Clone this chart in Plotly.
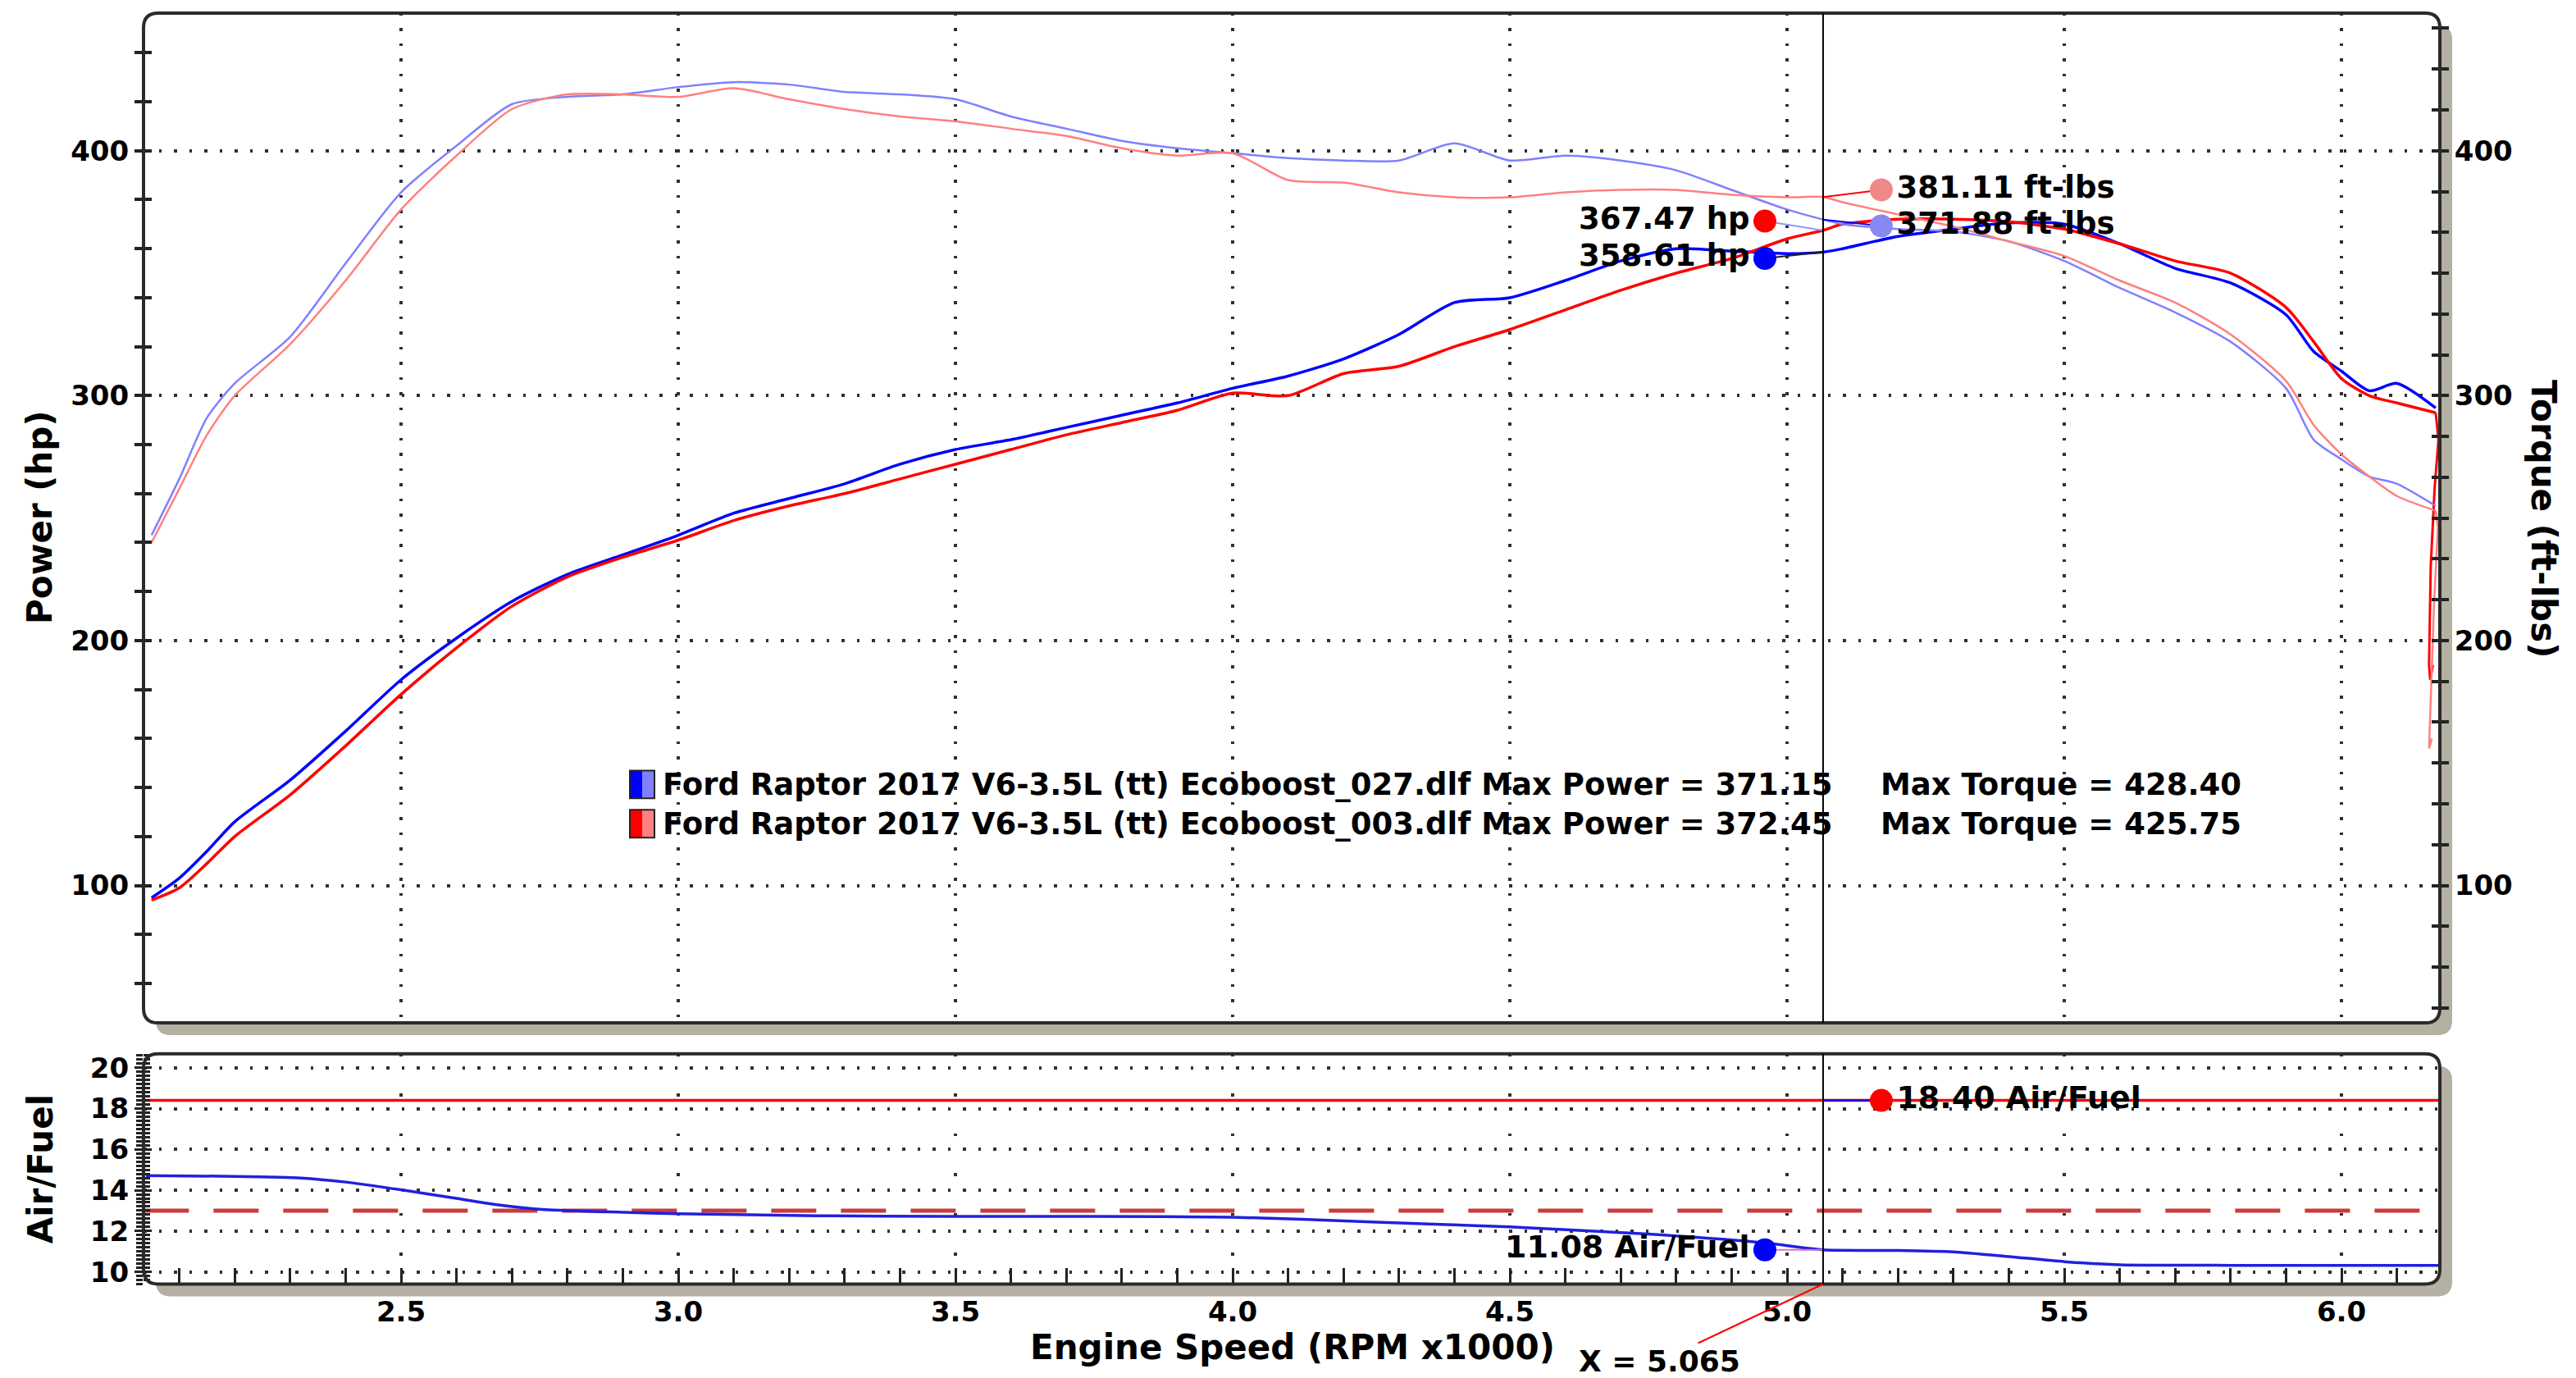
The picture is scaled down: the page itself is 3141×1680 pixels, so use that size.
import plotly.graph_objects as go

W, H = 3141, 1680

# ---------------- data ----------------
rpm = [2.05, 2.1, 2.15, 2.2, 2.3, 2.4, 2.5, 2.6, 2.7, 2.8, 2.9, 3.0, 3.1, 3.2, 3.3, 3.4,
       3.5, 3.6, 3.7, 3.8, 3.9, 4.0, 4.1, 4.2, 4.3, 4.4, 4.5, 4.6, 4.7, 4.8, 4.9, 5.0,
       5.065, 5.1, 5.2, 5.3, 5.4, 5.5, 5.6, 5.7, 5.8, 5.9, 5.95, 6.0, 6.05, 6.1, 6.17]

power_027 = [95, 103, 114, 126, 143, 163, 184, 201, 216, 227, 235, 243, 252, 258, 264, 272,
             278, 282, 287, 292, 297, 303, 308, 315, 325, 338, 340, 347, 355, 360, 359, 358,
             358.6, 360, 365, 368, 370.5, 370, 362, 352, 346, 333, 318, 310, 302, 305, 295]

power_003 = [94, 99, 109, 120, 137, 157, 178, 197, 214, 226, 234, 241, 249, 255, 260, 266,
             272, 278, 284, 289, 294, 301, 300, 309, 312, 320, 327, 335, 343, 350, 356, 364,
             367.5, 370, 372, 372, 371, 368, 362, 355, 350, 336, 322, 307, 300, 297, 293]

torque_027 = [243, 266, 291, 305, 324, 354, 383, 402, 419, 422, 423, 426, 428, 427, 424, 423,
              421, 414, 409, 404, 401, 399, 397, 396, 396, 403, 396, 398, 396, 392, 384, 376,
              371.9, 370, 368, 367, 363, 355, 344, 334, 322, 303, 282, 274, 267, 264, 255]

torque_003 = [240, 262, 284, 300, 321, 347, 376, 398, 417, 423, 423, 422, 425.5, 421, 417, 414,
              412, 409, 406, 401, 398, 399, 388, 387, 383, 381, 381, 383, 384, 384, 382, 381,
              381.1, 379, 374, 369, 363, 357, 347, 338, 325, 306, 288, 276, 267, 259, 253]

# end-of-run drop of run 003
rpm_tail_power_003 = [6.17, 6.175, 6.168, 6.161, 6.158, 6.160, 6.165]
power_tail_003 = [293, 282, 262, 230, 190, 184, 190]
rpm_tail_torque_003 = [6.17, 6.174, 6.167, 6.161, 6.158, 6.163]
torque_tail_003 = [253, 246, 215, 180, 156, 160]

rpm_afr = [2.04, 2.2, 2.32, 2.4, 2.5, 2.6, 2.67, 2.76, 2.9, 3.0, 3.25, 3.5, 3.75, 4.0, 4.25,
           4.5, 4.75, 4.96, 5.065, 5.2, 5.3, 5.4, 5.5, 5.6, 5.8, 6.0, 6.175]
afr_027 = [14.72, 14.68, 14.6, 14.4, 14.02, 13.6, 13.3, 13.05, 12.92, 12.85, 12.75, 12.72, 12.72,
           12.68, 12.45, 12.2, 11.85, 11.42, 11.08, 11.05, 10.98, 10.75, 10.5, 10.35, 10.32,
           10.32, 10.32]
rpm_afr_003 = [2.036, 6.177]
afr_003 = [18.40, 18.40]
afr_target_rpm = [2.036, 6.177]
afr_target = [13.0, 13.0]

run_names = ["Ford Raptor 2017 V6-3.5L (tt) Ecoboost_027.dlf",
             "Ford Raptor 2017 V6-3.5L (tt) Ecoboost_003.dlf"]
max_power = [371.15, 372.45]
max_torque = [428.40, 425.75]

cursor_rpm = 5.065
hp_at_cursor = [358.61, 367.47]       # 027, 003
tq_at_cursor = [371.88, 381.11]       # 027, 003
afr_at_cursor = [11.08, 18.40]        # 027, 003

x_ticks = [2.5, 3.0, 3.5, 4.0, 4.5, 5.0, 5.5, 6.0]
power_ticks = [100, 200, 300, 400]
afr_ticks = [10, 12, 14, 16, 18, 20]

# ---------------- style / layout constants ----------------
BLUE = "#0000ff"
LBLUE = "#8080ff"
RED = "#ff0000"
PINK = "#ff8080"
FONT = "DejaVu Sans"
X_RANGE = [2.0355, 6.1775]
P_RANGE = [43.9, 456.2]
A_RANGE = [9.4, 20.68]
LABEL_OFF = 0.105   # rpm offset of cursor value dots
# vertical nudges (axis units) that keep the cursor labels apart
HP_NUDGE = [-2.6, 3.8]
TQ_NUDGE = [-2.6, 2.9]

X0, X1 = 175, 2975
TOP0, TOP1 = 13, 1250
BOT0, BOT1 = 1288, 1570


def fx(px):
    return px / W


def fy(py):
    return 1 - py / H


fig = go.Figure()

# torque (thin)
fig.add_trace(go.Scatter(x=rpm, y=torque_027, mode="lines", yaxis="y2",
                         line=dict(color=LBLUE, width=2.5, shape="spline", smoothing=0.7)))
fig.add_trace(go.Scatter(x=rpm, y=torque_003, mode="lines", yaxis="y2",
                         line=dict(color=PINK, width=2.5, shape="spline", smoothing=0.7)))
fig.add_trace(go.Scatter(x=rpm_tail_torque_003, y=torque_tail_003, mode="lines", yaxis="y2",
                         line=dict(color=PINK, width=2.5)))
# power (thick)
fig.add_trace(go.Scatter(x=rpm, y=power_027, mode="lines", yaxis="y",
                         line=dict(color=BLUE, width=3.5, shape="spline", smoothing=0.7)))
fig.add_trace(go.Scatter(x=rpm, y=power_003, mode="lines", yaxis="y",
                         line=dict(color=RED, width=3.5, shape="spline", smoothing=0.7)))
fig.add_trace(go.Scatter(x=rpm_tail_power_003, y=power_tail_003, mode="lines", yaxis="y",
                         line=dict(color=RED, width=3)))

# AFR panel
fig.add_trace(go.Scatter(x=afr_target_rpm, y=afr_target, mode="lines", xaxis="x2", yaxis="y5",
                         line=dict(color="#c83c3c", width=5, dash="55px,30px")))
fig.add_trace(go.Scatter(x=rpm_afr_003, y=afr_003, mode="lines", xaxis="x2", yaxis="y5",
                         line=dict(color=RED, width=3.5)))
fig.add_trace(go.Scatter(x=rpm_afr, y=afr_027, mode="lines", xaxis="x2", yaxis="y5",
                         line=dict(color="#2020e0", width=3.5, shape="spline", smoothing=0.6)))


def cursor_dot(val, nudge, side, color, lead_color, unit, xa, ya, size):
    xd = cursor_rpm - LABEL_OFF if side == "left" else cursor_rpm + LABEL_OFF
    yd = val + nudge
    fig.add_trace(go.Scatter(x=[cursor_rpm, xd], y=[val, yd], mode="lines", xaxis=xa, yaxis=ya,
                             line=dict(color=lead_color, width=2)))
    fig.add_trace(go.Scatter(x=[xd], y=[yd], mode="markers+text", xaxis=xa, yaxis=ya,
                             marker=dict(size=28, color=color),
                             text=[f"{val:.2f} {unit}"],
                             textposition="middle left" if side == "left" else "middle right",
                             textfont=dict(family=FONT, size=size, color="black", weight="bold")))


cursor_dot(hp_at_cursor[1], HP_NUDGE[1], "left", RED, "#9090ff", "hp", "x", "y", 37)
cursor_dot(hp_at_cursor[0], HP_NUDGE[0], "left", BLUE, "#202020", "hp", "x", "y", 37)
cursor_dot(tq_at_cursor[1], TQ_NUDGE[1], "right", "#f08888", RED, "ft-lbs", "x", "y2", 37)
cursor_dot(tq_at_cursor[0], TQ_NUDGE[0], "right", "#8888f0", BLUE, "ft-lbs", "x", "y2", 37)
cursor_dot(afr_at_cursor[1], 0, "right", RED, BLUE, "Air/Fuel", "x2", "y5", 38)
cursor_dot(afr_at_cursor[0], 0, "left", BLUE, "#e070c0", "Air/Fuel", "x2", "y5", 38)

# helper traces so that the tick-only overlay axes are drawn
for ya, xa in (("y3", "x"), ("y4", "x"), ("y6", "x2")):
    fig.add_trace(go.Scatter(x=[None], y=[None], xaxis=xa, yaxis=ya, mode="lines"))

tick_font = dict(family=FONT, size=34, color="black", weight="bold")
dom_x = [fx(X0), fx(X1)]
dom_top = [fy(TOP1), fy(TOP0)]
dom_bot = [fy(BOT1), fy(BOT0)]
GRID = dict(showgrid=True, gridcolor="#303030", gridwidth=3.5, griddash="3.5px,15px")

fig.update_layout(
    width=W, height=H, margin=dict(l=0, r=0, t=0, b=0),
    paper_bgcolor="white", plot_bgcolor="rgba(0,0,0,0)",
    showlegend=False, font=dict(family=FONT, color="black"),
    xaxis=dict(domain=dom_x, range=X_RANGE, anchor="y", showticklabels=False, ticks="",
               tickvals=x_ticks, zeroline=False, showline=False, **GRID),
    xaxis2=dict(domain=dom_x, range=X_RANGE, anchor="y5", tickvals=x_ticks,
                ticktext=[f"{v:.1f}" for v in x_ticks], tickfont=tick_font,
                ticklabelstandoff=10,
                ticks="inside", ticklen=20, tickwidth=3, tickcolor="#222",
                minor=dict(ticks="inside", ticklen=20, tickwidth=3, tickcolor="#222", dtick=0.1, tick0=0),
                zeroline=False, showline=False, showgrid=True, gridcolor="#303030",
                gridwidth=3.5, griddash="3.5px,45px"),
    yaxis=dict(domain=dom_top, range=P_RANGE, anchor="x", side="left", tickvals=power_ticks,
               tickfont=tick_font, ticks="outside", ticklen=10, tickwidth=4, tickcolor="#222",
               minor=dict(ticks="outside", ticklen=10, tickwidth=4, tickcolor="#222", dtick=20, tick0=0),
               zeroline=False, showline=False, **GRID),
    yaxis2=dict(range=P_RANGE, overlaying="y", anchor="x", side="right", tickvals=power_ticks,
                tickfont=tick_font, ticks="outside", ticklen=10, tickwidth=4, tickcolor="#222",
                minor=dict(ticks="outside", ticklen=10, tickwidth=4, tickcolor="#222",
                           dtick=100 / 6, tick0=0),
                zeroline=False, showline=False, showgrid=False),
    yaxis3=dict(range=P_RANGE, overlaying="y", anchor="x", side="left", tickvals=power_ticks,
                showticklabels=False, ticks="inside", ticklen=10, tickwidth=4, tickcolor="#222",
                minor=dict(ticks="inside", ticklen=10, tickwidth=4, tickcolor="#222", dtick=20, tick0=0),
                zeroline=False, showline=False, showgrid=False),
    yaxis4=dict(range=P_RANGE, overlaying="y", anchor="x", side="right", tickvals=power_ticks,
                showticklabels=False, ticks="inside", ticklen=10, tickwidth=4, tickcolor="#222",
                minor=dict(ticks="inside", ticklen=10, tickwidth=4, tickcolor="#222",
                           dtick=100 / 6, tick0=0),
                zeroline=False, showline=False, showgrid=False),
    yaxis5=dict(domain=dom_bot, range=A_RANGE, anchor="x2", side="left", tickvals=afr_ticks,
                tickfont=tick_font, ticks="outside", ticklen=10, tickwidth=3, tickcolor="#222",
                minor=dict(ticks="outside", ticklen=8, tickwidth=3, tickcolor="#222", dtick=0.2, tick0=0),
                zeroline=False, showline=False, showgrid=True, gridcolor="#303030",
                gridwidth=3.5, griddash="3.5px,15px"),
    yaxis6=dict(range=A_RANGE, overlaying="y5", anchor="x2", side="left", tickvals=afr_ticks,
                showticklabels=False, ticks="inside", ticklen=10, tickwidth=3, tickcolor="#222",
                minor=dict(ticks="inside", ticklen=8, tickwidth=3, tickcolor="#222", dtick=0.2, tick0=0),
                zeroline=False, showline=False, showgrid=False),
)


def rrect(x0, y0, x1, y1, r):
    rx, ry = r / W, r / H
    a, b, c, d = fx(x0), fx(x1), fy(y0), fy(y1)
    return (f"M {a + rx},{c} L {b - rx},{c} Q {b},{c} {b},{c - ry} L {b},{d + ry} "
            f"Q {b},{d} {b - rx},{d} L {a + rx},{d} Q {a},{d} {a},{d + ry} L {a},{c - ry} "
            f"Q {a},{c} {a + rx},{c} Z")


SH = 15
shapes = []
for (t, b) in ((TOP0, TOP1), (BOT0, BOT1)):
    shapes.append(dict(type="path", path=rrect(X0 + SH, t + SH, X1 + SH, b + SH, 18), xref="paper",
                       yref="paper", fillcolor="#b4b0a2", line=dict(width=0), layer="below"))
    shapes.append(dict(type="path", path=rrect(X0, t, X1, b, 18), xref="paper", yref="paper",
                       fillcolor="white", line=dict(width=0), layer="below"))
    shapes.append(dict(type="path", path=rrect(X0, t, X1, b, 18), xref="paper", yref="paper",
                       fillcolor="rgba(0,0,0,0)", line=dict(color="#2a2a2a", width=4), layer="above"))
# cursor line in both panels
shapes.append(dict(type="line", xref="x", yref="y domain", x0=cursor_rpm, x1=cursor_rpm, y0=0, y1=1,
                   line=dict(color="black", width=2)))
shapes.append(dict(type="line", xref="x2", yref="y5 domain", x0=cursor_rpm, x1=cursor_rpm, y0=0, y1=1,
                   line=dict(color="black", width=2)))

# legend swatches
sw_colors = [(BLUE, LBLUE), (RED, PINK)]
leg_y = [958, 1006]
for (c1, c2), yc in zip(sw_colors, leg_y):
    shapes.append(dict(type="rect", xref="paper", yref="paper", x0=fx(768), x1=fx(783),
                       y0=fy(yc + 17), y1=fy(yc - 17), fillcolor=c1, line=dict(width=0)))
    shapes.append(dict(type="rect", xref="paper", yref="paper", x0=fx(783), x1=fx(798),
                       y0=fy(yc + 17), y1=fy(yc - 17), fillcolor=c2, line=dict(width=0)))
    shapes.append(dict(type="rect", xref="paper", yref="paper", x0=fx(768), x1=fx(798),
                       y0=fy(yc + 17), y1=fy(yc - 17), fillcolor="rgba(0,0,0,0)",
                       line=dict(color="#222", width=2)))
fig.update_layout(shapes=shapes)

leg_font = dict(family=FONT, size=37, color="black", weight="bold")
annotations = []
for name, mp, mt, yc in zip(run_names, max_power, max_torque, leg_y):
    annotations.append(dict(x=fx(806), y=fy(yc), xref="paper", yref="paper", xanchor="left",
                            yanchor="middle", showarrow=False, font=leg_font,
                            text=f"{name} Max Power = {mp:.2f}"))
    annotations.append(dict(x=fx(2291), y=fy(yc), xref="paper", yref="paper", xanchor="left",
                            yanchor="middle", showarrow=False, font=leg_font,
                            text=f"Max Torque = {mt:.2f}"))

title_font = dict(family=FONT, size=42, color="black", weight="bold")
C = dict(xref="paper", yref="paper", xanchor="center", yanchor="middle", showarrow=False,
         font=title_font)
annotations += [
    dict(x=fx(49), y=fy(631), text="Power (hp)", textangle=-90, **C),
    dict(x=fx(3101), y=fy(632), text="Torque (ft-lbs)", textangle=90, **C),
    dict(x=fx(49), y=fy(1429), text="Air/Fuel", textangle=-90, **C),
    dict(x=fx(1576), y=fy(1647), text="Engine Speed (RPM x1000)", **C),
    dict(x=cursor_rpm, y=0, xref="x2", yref="y5 domain", text=f"X = {cursor_rpm:.3f}",
         showarrow=True, arrowhead=0, arrowcolor=RED, arrowwidth=2, ax=-199, ay=94,
         font=dict(family=FONT, size=36, color="black", weight="bold")),
]
fig.update_layout(annotations=annotations)

fig.write_html("out.html", config={"displayModeBar": False},
               post_script="document.body.style.margin='0px';")
